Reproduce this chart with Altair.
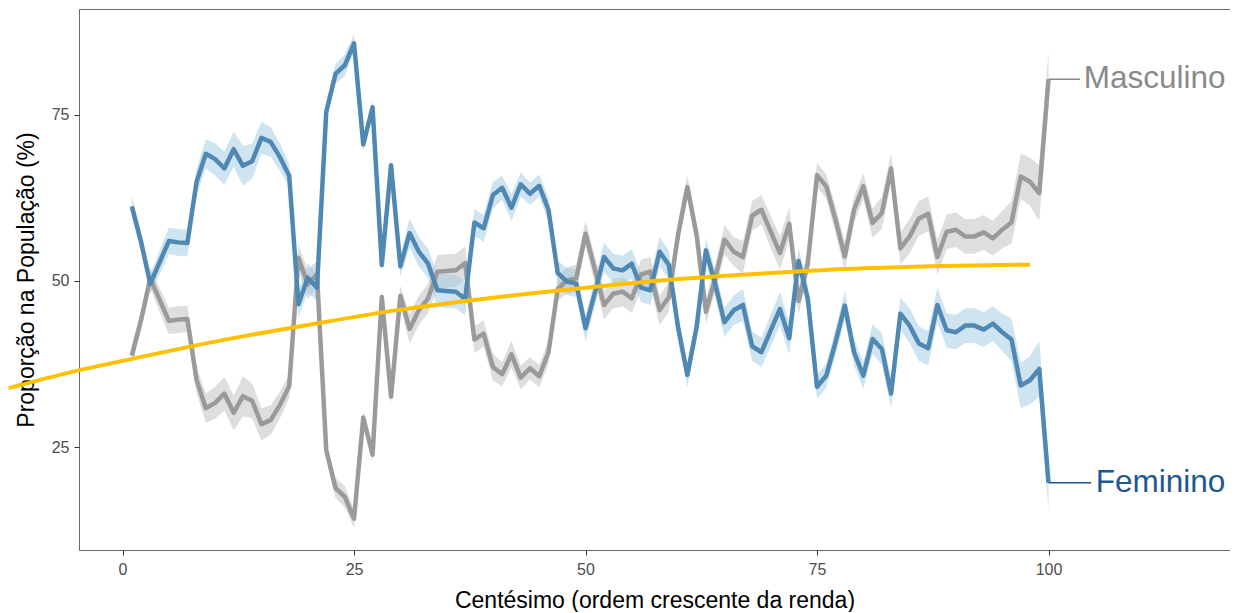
import altair as alt
import pandas as pd

# ---------------- data ----------------
centesimo = list(range(1, 101))

feminino = [61.2, 55.9, 49.6, 52.8, 56.0, 55.8, 55.7, 64.9, 69.1, 68.3,
            66.9, 69.8, 67.3, 68.0, 71.5, 70.9, 68.6, 65.8, 46.5, 50.5,
            49.0, 75.4, 81.1, 82.4, 85.7, 70.5, 76.1, 52.4, 67.4, 52.2,
            57.2, 54.4, 52.6, 48.6, 48.5, 48.4, 47.3, 58.8, 57.9, 62.9,
            64.0, 61.0, 64.5, 63.1, 64.3, 60.7, 51.2, 49.9, 49.6, 42.9,
            48.2, 53.6, 51.9, 51.6, 52.6, 49.0, 48.6, 54.4, 52.4, 43.0,
            35.9, 43.1, 54.6, 49.6, 43.8, 45.6, 46.4, 40.2, 39.3, 42.6,
            45.8, 41.4, 53.0, 47.4, 34.1, 35.8, 40.8, 46.3, 39.3, 35.8,
            41.3, 39.8, 33.1, 45.1, 43.3, 40.6, 39.9, 46.4, 42.6, 42.3,
            43.3, 43.3, 42.7, 43.6, 42.3, 41.2, 34.3, 35.1, 36.8, 19.7]

masculino = [38.8, 44.1, 50.4, 47.2, 44.0, 44.2, 44.3, 35.1, 30.9, 31.7,
             33.1, 30.2, 32.7, 32.0, 28.5, 29.1, 31.4, 34.2, 53.5, 49.5,
             51.0, 24.6, 18.9, 17.6, 14.3, 29.5, 23.9, 47.6, 32.6, 47.8,
             42.8, 45.6, 47.4, 51.4, 51.5, 51.6, 52.7, 41.2, 42.1, 37.1,
             36.0, 39.0, 35.5, 36.9, 35.7, 39.3, 48.8, 50.1, 50.4, 57.1,
             51.8, 46.4, 48.1, 48.4, 47.4, 51.0, 51.4, 45.6, 47.6, 57.0,
             64.1, 56.9, 45.4, 50.4, 56.2, 54.4, 53.6, 59.8, 60.7, 57.4,
             54.2, 58.6, 47.0, 52.6, 65.9, 64.2, 59.2, 53.7, 60.7, 64.2,
             58.7, 60.2, 66.9, 54.9, 56.7, 59.4, 60.1, 53.6, 57.4, 57.7,
             56.7, 56.7, 57.3, 56.4, 57.7, 58.8, 65.7, 64.9, 63.2, 80.3]

# half-width of the confidence band (same for both complementary shares)
margem = [1.5, 1.5, 1.5, 1.8, 2.0, 2.0, 2.0, 2.0, 2.2, 2.4,
          2.5, 2.6, 3.0, 2.6, 2.4, 2.2, 2.0, 1.8, 2.0, 2.2,
          2.0, 1.2, 1.5, 1.6, 1.4, 1.0, 1.0, 1.0, 1.0, 1.5,
          2.2, 2.2, 2.2, 2.5, 2.5, 2.5, 2.5, 2.0, 2.0, 2.0,
          1.8, 2.0, 1.8, 1.7, 1.7, 1.8, 1.8, 2.0, 2.0, 2.0,
          2.0, 2.2, 2.2, 2.2, 2.2, 2.2, 2.2, 2.2, 2.2, 2.0,
          1.8, 1.8, 1.8, 2.0, 2.2, 2.2, 2.4, 2.2, 2.2, 2.4,
          2.5, 2.4, 2.0, 1.8, 1.8, 1.8, 2.0, 2.2, 2.0, 2.0,
          2.2, 2.4, 2.2, 2.4, 2.6, 2.6, 2.6, 2.6, 2.6, 2.6,
          2.6, 2.6, 2.6, 2.6, 2.8, 3.2, 3.4, 3.6, 4.2, 4.0]

# yellow reference curve
curva_x = [-12.3, -5, 0, 10, 20, 30, 40, 50, 60, 70, 80, 90, 98]
curva_y = [33.9, 36.5, 38.0, 40.9, 43.4, 45.7, 47.5, 49.0, 50.3, 51.2, 51.9, 52.3, 52.45]

series = ["Masculino", "Feminino"]
cores_linha = ["#9a9a9a", "#5088b4"]
cores_faixa = ["#bdbdbd", "#9ecae1"]
cores_texto = ["#8a8a8a", "#1d5894"]

# ---------------- tables ----------------
rows = []
for s, vals in zip(series, [masculino, feminino]):
    for c, v, m in zip(centesimo, vals, margem):
        rows.append({"serie": s, "centesimo": c, "prop": v, "lo": v - m, "hi": v + m})
df = pd.DataFrame(rows)

df_curva = pd.DataFrame({"centesimo": curva_x, "prop": curva_y})

# label placement (layout only)
gap_seg = {"Masculino": 3.4, "Feminino": 4.6}
gap_txt = {"Masculino": 3.8, "Feminino": 5.1}
df_lab = pd.DataFrame({
    "serie": series,
    "centesimo": [centesimo[-1], centesimo[-1]],
    "prop": [masculino[-1], feminino[-1]],
})
df_lab["fim"] = [centesimo[-1] + gap_seg[s] for s in series]
df_lab["tx"] = [centesimo[-1] + gap_txt[s] for s in series]

# ---------------- scales ----------------
xs = alt.Scale(domain=[-4.7, 119.6], nice=False, zero=False)
ys = alt.Scale(domain=[9.6, 90.85], nice=False, zero=False)
FONT = "Liberation Sans"

x_axis = alt.Axis(values=[0, 25, 50, 75, 100], title="Centésimo (ordem crescente da renda)",
                  grid=False, domain=False, tickSize=5, tickColor="#333333",
                  labelFontSize=16, labelColor="#4d4d4d", labelPadding=6, labelFont=FONT,
                  titleFontSize=23, titleFont=FONT, titleFontWeight="normal",
                  titleColor="#000000", titleY=50, titleBaseline="middle")
y_axis = alt.Axis(values=[25, 50, 75], title="Proporção na População (%)",
                  grid=False, domain=False, tickSize=5, tickColor="#333333",
                  labelFontSize=16, labelColor="#4d4d4d", labelPadding=5, labelFont=FONT,
                  titleFontSize=23, titleFont=FONT, titleFontWeight="normal",
                  titleColor="#000000", titleX=-53, titleBaseline="middle")

faixa = alt.Chart(df).mark_area(opacity=0.5).encode(
    x=alt.X("centesimo:Q", scale=xs, axis=x_axis),
    y=alt.Y("lo:Q", scale=ys, axis=y_axis),
    y2="hi:Q",
    fill=alt.Fill("serie:N", scale=alt.Scale(domain=series, range=cores_faixa), legend=None),
    detail="serie:N",
)

linhas = alt.Chart(df).mark_line(strokeWidth=4.5, strokeJoin="round").encode(
    x=alt.X("centesimo:Q", scale=xs),
    y=alt.Y("prop:Q", scale=ys),
    color=alt.Color("serie:N", scale=alt.Scale(domain=series, range=cores_linha), legend=None),
    detail="serie:N",
)

curva = alt.Chart(df_curva).mark_line(strokeWidth=4, color="#ffc000", interpolate="monotone").encode(
    x=alt.X("centesimo:Q", scale=xs),
    y=alt.Y("prop:Q", scale=ys),
)

seg = alt.Chart(df_lab).mark_rule(strokeWidth=1.5).encode(
    x=alt.X("centesimo:Q", scale=xs),
    x2="fim:Q",
    y=alt.Y("prop:Q", scale=ys),
    color=alt.Color("serie:N", scale=alt.Scale(domain=series, range=cores_texto), legend=None),
)

rotulos = alt.Chart(df_lab).mark_text(align="left", baseline="middle", fontSize=31.5, font=FONT).encode(
    x=alt.X("tx:Q", scale=xs),
    y=alt.Y("prop:Q", scale=ys),
    text="serie:N",
    color=alt.Color("serie:N", scale=alt.Scale(domain=series, range=cores_texto), legend=None),
)

chart = alt.layer(faixa, linhas, curva, seg, rotulos).resolve_scale(
    color="independent", fill="independent"
).properties(
    width=1151, height=541,
    padding={"left": 71, "top": 1, "right": 0, "bottom": 62},
    autosize=alt.AutoSizeParams(type="none"),
    background="white",
).configure_view(stroke="#666666", strokeWidth=1)

chart.save("out.html", embed_options={"renderer": "svg", "actions": False})
